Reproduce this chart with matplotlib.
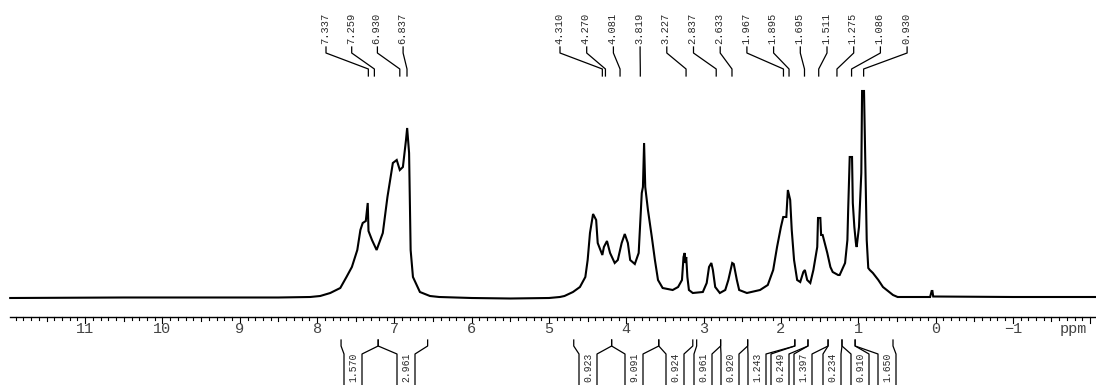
import numpy as np
import matplotlib
matplotlib.use("Agg")
import matplotlib.pyplot as plt
from matplotlib import transforms

W, H = 1096, 385

# spectrum trace: chemical shift (ppm) / intensity (arb. units)
shift_ppm = [11.97, 10.5, 8.5, 8.09, 7.96, 7.83, 7.70, 7.62, 7.55, 7.48, 7.44, 7.41, 7.37,
             7.345, 7.335, 7.29, 7.23, 7.15, 7.09, 7.02, 6.97, 6.93, 6.89, 6.85, 6.835,
             6.81, 6.79, 6.76, 6.67, 6.54, 6.42, 6.0, 5.5, 5.0, 4.86,
             4.80, 4.69, 4.60, 4.53, 4.50, 4.47, 4.43, 4.39, 4.37, 4.31, 4.29, 4.25, 4.21,
             4.15, 4.11, 4.06, 4.02, 3.98, 3.95, 3.89, 3.84, 3.80, 3.785, 3.77, 3.755,
             3.72, 3.67, 3.63, 3.59, 3.53, 3.40, 3.33, 3.28, 3.26, 3.245, 3.235, 3.225,
             3.21, 3.19, 3.14, 3.01, 2.96, 2.93, 2.90, 2.88, 2.85, 2.79, 2.72, 2.68, 2.63,
             2.61, 2.57, 2.54, 2.44, 2.27, 2.17, 2.10, 2.05, 2.00, 1.97, 1.93, 1.91, 1.88,
             1.86, 1.83, 1.79, 1.75, 1.71, 1.69, 1.66, 1.62, 1.58, 1.53, 1.52, 1.49, 1.48,
             1.46, 1.40, 1.36, 1.33, 1.26, 1.24, 1.17, 1.14, 1.13, 1.11, 1.08, 1.07, 1.05,
             1.03, 1.02, 0.99, 0.96, 0.95, 0.925, 0.91, 0.89, 0.87, 0.85, 0.81, 0.74, 0.68,
             0.55, 0.49, 0.07, 0.05, 0.04, 0.03, -1.0, -2.10]
intensity = [-1, -0.5, -0.5, 0, 1, 4, 9, 20, 30, 47, 67, 74, 76,
             94, 66, 57, 47, 64, 100, 134, 137, 127, 130, 157, 169,
             144, 47, 20, 5, 1, 0, -1, -1.5, -1, 0,
             1, 5, 10, 20, 37, 64, 83, 77, 54, 42, 50, 56, 44,
             34, 37, 54, 63, 54, 37, 33, 44, 104, 110, 154, 110,
             87, 60, 37, 17, 9, 7, 10, 17, 40, 44, 34, 40,
             20, 7, 4, 5, 14, 30, 34, 27, 10, 4, 7, 17, 34,
             33, 17, 7, 4, 7, 12, 27, 50, 70, 80, 80, 107, 97,
             67, 37, 17, 15, 25, 27, 17, 14, 27, 50, 79, 79, 62,
             62, 44, 30, 25, 22, 22, 34, 57, 87, 140, 140, 94, 70,
             54, 50, 70, 124, 206, 206, 140, 57, 29, 27, 24, 17, 10,
             2, 0, 0, 6, 6, 0.5, 0, 0]

# picked peaks (top labels), grouped as printed by the software
peak_groups = [
    ["7.337", "7.259", "6.930", "6.837"],
    ["4.310", "4.270", "4.081", "3.819", "3.227", "2.837", "2.633", "1.967",
     "1.895", "1.695", "1.511", "1.275", "1.086", "0.930"],
]

# integrals: region edges (ppm) and values
integral_start = [7.69, 7.21, 4.68, 4.19, 3.58, 3.09, 2.78, 2.43, 1.82, 1.65, 1.39, 1.21, 1.04]
integral_end = [7.21, 6.57, 4.19, 3.58, 3.14, 2.78, 2.43, 1.82, 1.65, 1.39, 1.21, 1.04, 0.55]
integral_values = ["1.570", "2.961", "0.923", "9.091", "0.924", "0.961", "0.920",
                   "1.243", "0.249", "1.397", "0.234", "0.910", "1.650"]

major_ticks = list(range(11, -2, -1))

fig = plt.figure(figsize=(W / 100, H / 100), dpi=100)
ax = fig.add_axes([0, 0, 1, 1])
ax.set_xlim(12.102, -2.076)
ax.set_ylim(297 - H, 297)
ax.axis("off")

# pixel coordinates measured from the top-left corner
pix = transforms.Affine2D().scale(1.0 / W, -1.0 / H).translate(0, 1) + fig.transFigure


def ppm_to_px(p):
    disp = ax.transData.transform([(p, 0)])
    return fig.transFigure.inverted().transform(disp)[0, 0] * W


FONT = "Liberation Mono"
INK = "#2a2a2a"

ax.plot(shift_ppm, intensity, color="black", lw=1.5, solid_joinstyle="miter")

# axis line and ticks
AX_Y = 317
ax.plot([10, W], [AX_Y, AX_Y], color="black", lw=1, transform=pix)
for t in np.arange(-20, 121) / 10.0:
    x = ppm_to_px(t)
    if x < 10:
        continue
    if abs(t - round(t)) < 1e-6:
        length = 6
    elif abs(t * 2 - round(t * 2)) < 1e-6:
        length = 4
    else:
        length = 2.5
    ax.plot([x, x], [AX_Y, AX_Y + length], color="black", lw=0.8, transform=pix)
for t in major_ticks:
    ax.text(ppm_to_px(t), 329, str(t).replace("-", "\u2212"), transform=pix,
            ha="center", va="center", fontsize=11, family=FONT, color="#444")
ax.text(1060, 329, "ppm", transform=pix, ha="left", va="center",
        fontsize=11, family=FONT, color="#444")

# peak labels with connectors
group_slots = [(326, 25.7), (560, 26.7)]
for labels, (x0, step) in zip(peak_groups, group_slots):
    for i, lab in enumerate(labels):
        sx = x0 + i * step
        px = ppm_to_px(float(lab))
        ax.plot([sx, sx, px, px], [47, 53, 69, 76], color="black", lw=0.9, transform=pix)
        ax.text(sx - 1, 44, lab, transform=pix, rotation=90, ha="center", va="bottom",
                fontsize=7.5, family=FONT, color=INK)

# integral brackets
int_slots = [353, 406, 588, 634, 675, 703, 730, 757, 780, 803, 832, 860, 887]
hw = 9
for a, b, val, s in zip(integral_start, integral_end, integral_values, int_slots):
    xa, xb = ppm_to_px(a), ppm_to_px(b)
    ax.plot([xa, xa, s - hw, s - hw], [340, 346, 354, 390], color="black", lw=0.9, transform=pix)
    ax.plot([xb, xb, s + hw, s + hw], [340, 346, 354, 390], color="black", lw=0.9, transform=pix)
    ax.text(s, 353, val, transform=pix, rotation=90, ha="center", va="top",
            fontsize=7, family=FONT, color=INK)

fig.savefig("out.png", dpi=100)
